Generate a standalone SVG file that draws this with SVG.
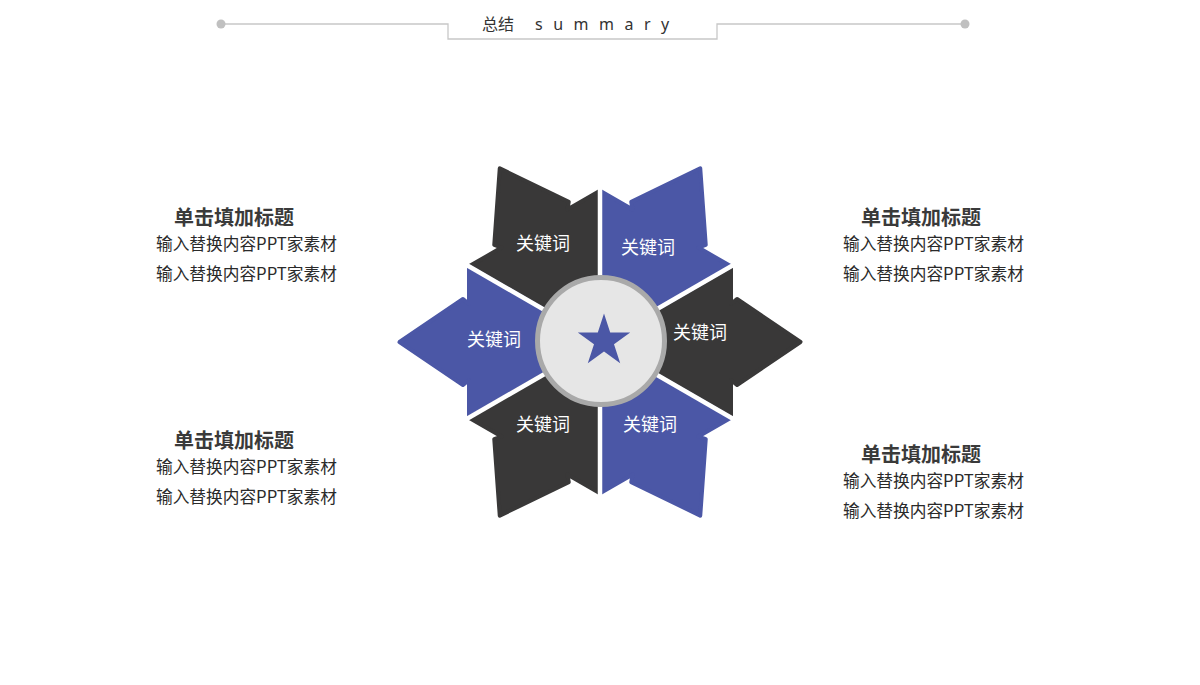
<svg xmlns="http://www.w3.org/2000/svg" width="1200" height="685" viewBox="0 0 1200 685">
<style>
.dark{fill:#393838;stroke:#393838}
.blue{fill:#4b57a6;stroke:#4b57a6}
.piece{stroke-width:4;stroke-linejoin:round}
.gap{stroke:#ffffff;stroke-width:4.5}
.kw{font-family:"Noto Sans CJK SC","Noto Sans",sans-serif;font-size:18px;fill:#ffffff;text-anchor:middle}
.title{font-family:"Noto Sans CJK SC","Noto Sans",sans-serif;font-size:20px;font-weight:bold;fill:#3a3a3a}
.body{font-family:"Noto Sans CJK SC","Noto Sans",sans-serif;font-size:16.7px;fill:#2a2a2a}
.hl{stroke:#c8c8c8;stroke-width:1.3;fill:none}
</style>
<defs>
<polygon id="arrow" points="0,0 131,-75.6 131,-38 137,-43 200.5,0 137,43 131,38 131,75.6"/>
<line id="gapline" x1="0" y1="0" x2="165" y2="0"/>
</defs>
<g id="header">
<polyline class="hl" points="221,24 448,24 448,39 717,39 717,24 965,24"/>
<circle cx="221" cy="24" r="4.5" fill="#c0c0c0"/>
<circle cx="965" cy="24" r="4.5" fill="#c0c0c0"/>
<text x="482" y="30" font-family="'Noto Sans CJK SC','Noto Sans',sans-serif" font-size="16" fill="#333">总结</text>
<text x="535" y="30" font-family="'Noto Sans','Liberation Sans',sans-serif" font-size="16" letter-spacing="10.5" fill="#333">summary</text>
</g>
<g id="piece-right"><use href="#arrow" class="dark piece" transform="translate(600,342)"/></g>
<g id="piece-topright"><use href="#arrow" class="blue piece" transform="translate(600,342) rotate(-60)"/></g>
<g id="piece-topleft"><use href="#arrow" class="dark piece" transform="translate(600,342) rotate(-120)"/></g>
<g id="piece-left"><use href="#arrow" class="blue piece" transform="translate(600,342) rotate(180)"/></g>
<g id="piece-bottomleft"><use href="#arrow" class="dark piece" transform="translate(600,342) rotate(120)"/></g>
<g id="piece-bottomright"><use href="#arrow" class="blue piece" transform="translate(600,342) rotate(60)"/></g>
<g id="connectors">
<use href="#gapline" class="gap" transform="translate(600,342) rotate(30)"/>
<use href="#gapline" class="gap" transform="translate(600,342) rotate(90)"/>
<use href="#gapline" class="gap" transform="translate(600,342) rotate(150)"/>
<use href="#gapline" class="gap" transform="translate(600,342) rotate(210)"/>
<use href="#gapline" class="gap" transform="translate(600,342) rotate(270)"/>
<use href="#gapline" class="gap" transform="translate(600,342) rotate(330)"/>
</g>
<g id="labels">
<text class="kw" x="700" y="339">关键词</text>
<text class="kw" x="648" y="254">关键词</text>
<text class="kw" x="543" y="250">关键词</text>
<text class="kw" x="494" y="346">关键词</text>
<text class="kw" x="543" y="431">关键词</text>
<text class="kw" x="650" y="431">关键词</text>
</g>
<g id="center">
<circle cx="601" cy="341" r="63.5" fill="#e6e6e6" stroke="#a9a9a9" stroke-width="5"/>
<polygon fill="#4b57a6" points="604,313.5 610.2,332.5 630.2,332.5 614.0,344.3 620.2,363.3 604,351.5 587.8,363.3 594.0,344.3 577.8,332.5 597.8,332.5"/>
</g>
<g id="text-tl"><text class="title" x="174" y="225">单击填加标题</text><text class="body" x="156" y="250">输入替换内容PPT家素材</text><text class="body" x="156" y="280">输入替换内容PPT家素材</text></g>
<g id="text-tr"><text class="title" x="861" y="225">单击填加标题</text><text class="body" x="843" y="250">输入替换内容PPT家素材</text><text class="body" x="843" y="280">输入替换内容PPT家素材</text></g>
<g id="text-bl"><text class="title" x="174" y="448">单击填加标题</text><text class="body" x="156" y="473">输入替换内容PPT家素材</text><text class="body" x="156" y="503">输入替换内容PPT家素材</text></g>
<g id="text-br"><text class="title" x="861" y="462">单击填加标题</text><text class="body" x="843" y="487">输入替换内容PPT家素材</text><text class="body" x="843" y="517">输入替换内容PPT家素材</text></g>
</svg>
